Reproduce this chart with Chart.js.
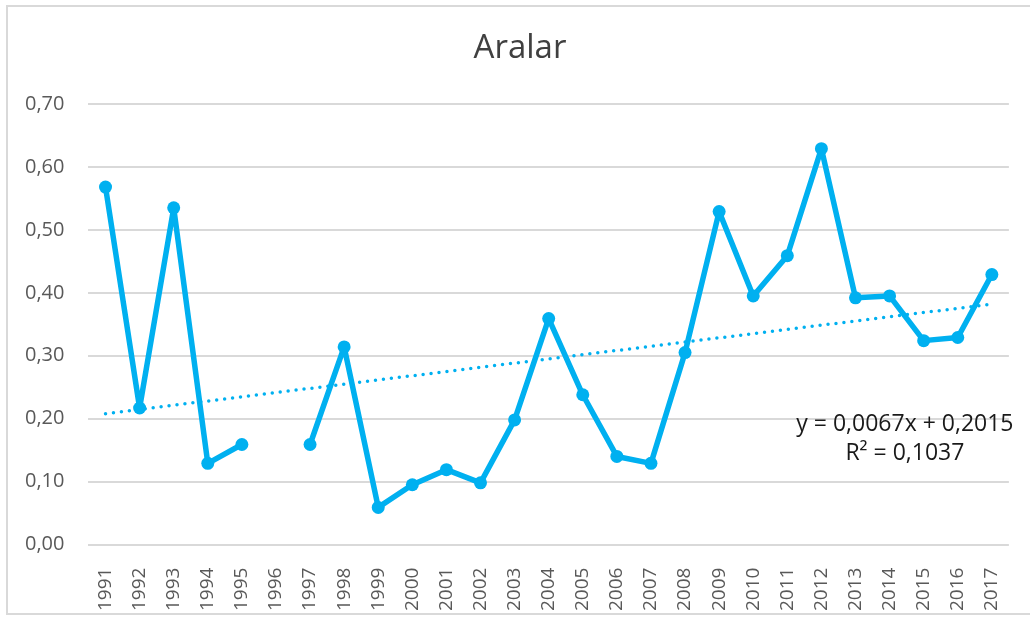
<!DOCTYPE html>
<html>
<head>
<meta charset="utf-8">
<script src="https://cdn.jsdelivr.net/npm/chart.js@4.4.1/dist/chart.umd.min.js"></script>
<style>
  html, body { margin:0; padding:0; background:#fff; }
  #wrap { position:relative; width:1030px; height:619px; overflow:hidden; }
  #frame { position:absolute; left:6px; top:5px; width:1060px; height:610px; border:2px solid #d9d9d9; box-sizing:border-box; }
  #cv { position:absolute; left:0; top:0; }
  #title { position:absolute; left:420px; width:200px; top:24px; text-align:center;
           font: 33px 'Open Sans', sans-serif; color:#404040; line-height:44px; }
</style>
</head>
<body>
<div id="wrap">
  <div id="frame"></div>
  <canvas id="cv" width="1030" height="626"></canvas>
  <div id="title">Aralar</div>
</div>
<script>
/* ---- dados ---- */
const years = ['1991','1992','1993','1994','1995','1996','1997','1998','1999','2000','2001','2002','2003','2004',
               '2005','2006','2007','2008','2009','2010','2011','2012','2013','2014','2015','2016','2017'];
const values = [0.568, 0.217, 0.535, 0.129, 0.159, null, 0.159, 0.314, 0.059, 0.095, 0.119, 0.098, 0.198, 0.359,
                0.238, 0.140, 0.129, 0.305, 0.529, 0.395, 0.459, 0.629, 0.392, 0.395, 0.324, 0.329, 0.429];
const trendYears  = ['1991','2017'];
const trendValues = [0.208, 0.382];
const trendLabel  = ['y = 0,0067x + 0,2015', 'R² = 0,1037'];
const yTicks = [0, 0.1, 0.2, 0.3, 0.4, 0.5, 0.6, 0.7];

const BLUE = '#00B0F0';
const FONT = "'Open Sans', sans-serif";

// rótulo da linha de tendência
const trendText = {
  id: 'trendText',
  afterDraw(chart){
    const { ctx, chartArea, scales } = chart;
    const cx = chartArea.right - 104;
    ctx.save();
    ctx.font = `23px ${FONT}`;
    ctx.fillStyle = '#1a1a1a';
    ctx.textAlign = 'center';
    ctx.textBaseline = 'alphabetic';
    ctx.fillText(trendLabel[0], cx, scales.y.getPixelForValue(0.181));
    ctx.fillText(trendLabel[1], cx, scales.y.getPixelForValue(0.134));
    ctx.restore();
  }
};

new Chart(document.getElementById('cv'), {
  type: 'line',
  data: {
    labels: years,
    datasets: [
      {
        label: 'Aralar',
        data: values,
        borderColor: BLUE, backgroundColor: BLUE,
        borderWidth: 5.5, borderJoinStyle: 'round', borderCapStyle: 'round',
        pointRadius: 6.5, pointBorderWidth: 0,
        pointBackgroundColor: BLUE, spanGaps: false, tension: 0, order: 2
      },
      {
        label: 'Tendência',
        data: trendYears.map((y, i) => ({ x: y, y: trendValues[i] })),
        borderColor: BLUE, borderWidth: 3.5, borderDash: [0, 8], borderCapStyle: 'round',
        pointRadius: 0, fill: false, order: 1
      }
    ]
  },
  options: {
    responsive: false, animation: false,
    layout: { padding: { top: 104, left: 1, right: 19, bottom: 0 } },
    plugins: {
      legend: { display: false },
      tooltip: { enabled: false },
      title: { display: false }
    },
    scales: {
      x: {
        offset: true,
        grid: { display: false },
        border: { display: false },
        ticks: { color: '#595959', font: { family: FONT, size: 19 }, minRotation: 90, maxRotation: 90, padding: 15, autoSkip: false }
      },
      y: {
        min: 0, max: 0.7,
        afterBuildTicks: (ax) => { ax.ticks = yTicks.map(v => ({ value: v })); },
        grid: { color: '#d9d9d9', lineWidth: 2, drawTicks: false },
        border: { display: false },
        ticks: {
          color: '#595959', font: { family: FONT, size: 20 }, padding: 24,
          callback: (v) => v.toFixed(2).replace('.', ',')
        }
      }
    }
  },
  plugins: [trendText]
});
</script>
</body>
</html>
